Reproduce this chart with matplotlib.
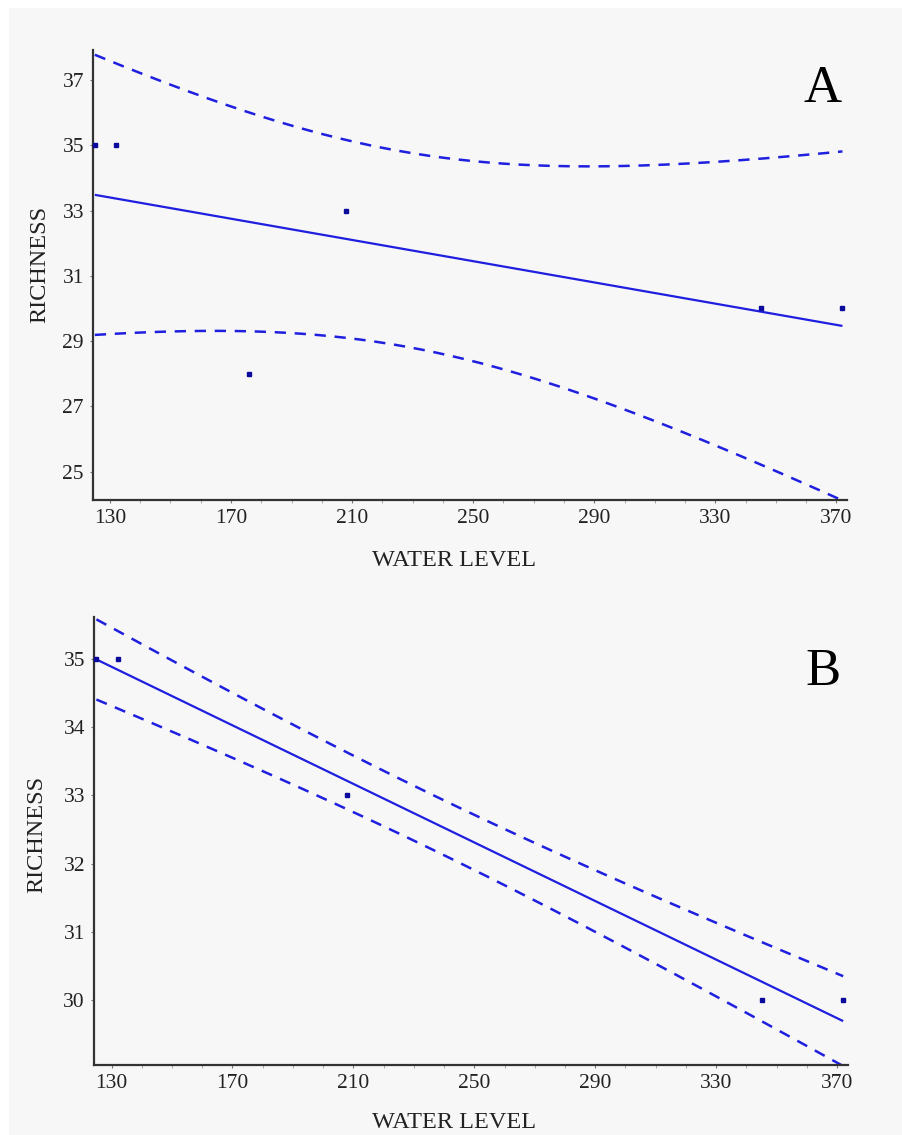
import numpy as np
import matplotlib
matplotlib.use("Agg")
import matplotlib.pyplot as plt
from matplotlib.patches import Rectangle
from matplotlib.ticker import MultipleLocator

# ---- data ----
water_a = [125, 132, 176, 208, 345, 372]
rich_a = [35, 35, 28, 33, 30, 30]
water_b = [125, 132, 208, 345, 372]
rich_b = [35, 35, 33, 30, 30]
t_crit_a = 2.776   # t(0.975, df=4)
t_crit_b = 3.182   # t(0.975, df=3)
xticks = [130, 170, 210, 250, 290, 330, 370]
yticks_a = [25, 27, 29, 31, 33, 35, 37]
yticks_b = [30, 31, 32, 33, 34, 35]
panel_labels = ["A", "B"]

plt.rcParams['font.family'] = ['Liberation Serif', 'DejaVu Serif']

BLUE = '#1f1fe0'
PT = '#0a0a9c'
BG = '#f7f7f7'


def fit_band(x, y, tcrit, xs):
    x = np.asarray(x, float)
    y = np.asarray(y, float)
    n = len(x)
    b, a = np.polyfit(x, y, 1)
    res = y - (a + b * x)
    s = np.sqrt(np.sum(res ** 2) / (n - 2))
    sxx = np.sum((x - x.mean()) ** 2)
    yh = a + b * xs
    hw = tcrit * s * np.sqrt(1.0 / n + (xs - x.mean()) ** 2 / sxx)
    return yh, yh - hw, yh + hw


W, H = 903, 1135
fig = plt.figure(figsize=(W / 100, H / 100), dpi=100)
fig.patch.set_facecolor('white')
fig.patches.append(Rectangle((9 / W, 0), 1 - 9 / W, 1 - 8 / H, transform=fig.transFigure,
                             facecolor=BG, edgecolor='none', zorder=-10))


def px_axes(l, r, t, b):
    return fig.add_axes([l / W, 1 - b / H, (r - l) / W, (b - t) / H])


def style(ax, xlim, ylim, yticks):
    ax.set_facecolor(BG)
    ax.set_xlim(*xlim)
    ax.set_ylim(*ylim)
    ax.set_xticks(xticks)
    ax.set_yticks(yticks)
    ax.xaxis.set_minor_locator(MultipleLocator(10))
    for s in ['top', 'right']:
        ax.spines[s].set_visible(False)
    for s in ['left', 'bottom']:
        ax.spines[s].set_linewidth(1.6)
        ax.spines[s].set_color('#333333')
    ax.tick_params(axis='both', which='major', direction='out', length=2.5, width=0.8,
                   color='#777777', labelsize=15.5, labelcolor='#222222', pad=4)
    ax.tick_params(axis='x', which='minor', direction='out', length=2, width=0.6, color='#999999')


def draw(ax, xd, yd, tcrit):
    xs = np.linspace(min(xd), max(xd), 200)
    yh, lo, hi = fit_band(xd, yd, tcrit, xs)
    ax.plot(xs, yh, color=BLUE, lw=1.6, solid_capstyle='butt')
    ax.plot(xs, lo, color=BLUE, lw=1.8, ls=(0, (4.5, 3.5)))
    ax.plot(xs, hi, color=BLUE, lw=1.8, ls=(0, (4.5, 3.5)))
    ax.plot(xd, yd, ls='none', marker='s', ms=3.5, color=PT, mec=PT, clip_on=False, zorder=5)


axA = px_axes(93, 847, 50, 500)
style(axA, (124.4, 373.5), (24.13, 37.92), yticks_a)
draw(axA, water_a, rich_a, t_crit_a)

axB = px_axes(94, 848, 617, 1065)
style(axB, (124.2, 373.6), (29.05, 35.61), yticks_b)
draw(axB, water_b, rich_b, t_crit_b)

for lab, ytop in zip(panel_labels, (65, 648)):
    fig.text(823 / W, 1 - ytop / H, lab, ha='center', va='top', fontsize=38, color='black')

fig.text(454 / W, 1 - 560 / H, 'WATER LEVEL', ha='center', va='center', fontsize=17.5, color='#222222')
fig.text(454 / W, 1 - 1123 / H, 'WATER LEVEL', ha='center', va='center', fontsize=17.5, color='#222222')
fig.text(40 / W, 1 - 264 / H, 'RICHNESS', ha='center', va='center', rotation=90, fontsize=17.5, color='#222222')
fig.text(37 / W, 1 - 834 / H, 'RICHNESS', ha='center', va='center', rotation=90, fontsize=17.5, color='#222222')

fig.savefig('out.png', dpi=100, facecolor=fig.get_facecolor())
